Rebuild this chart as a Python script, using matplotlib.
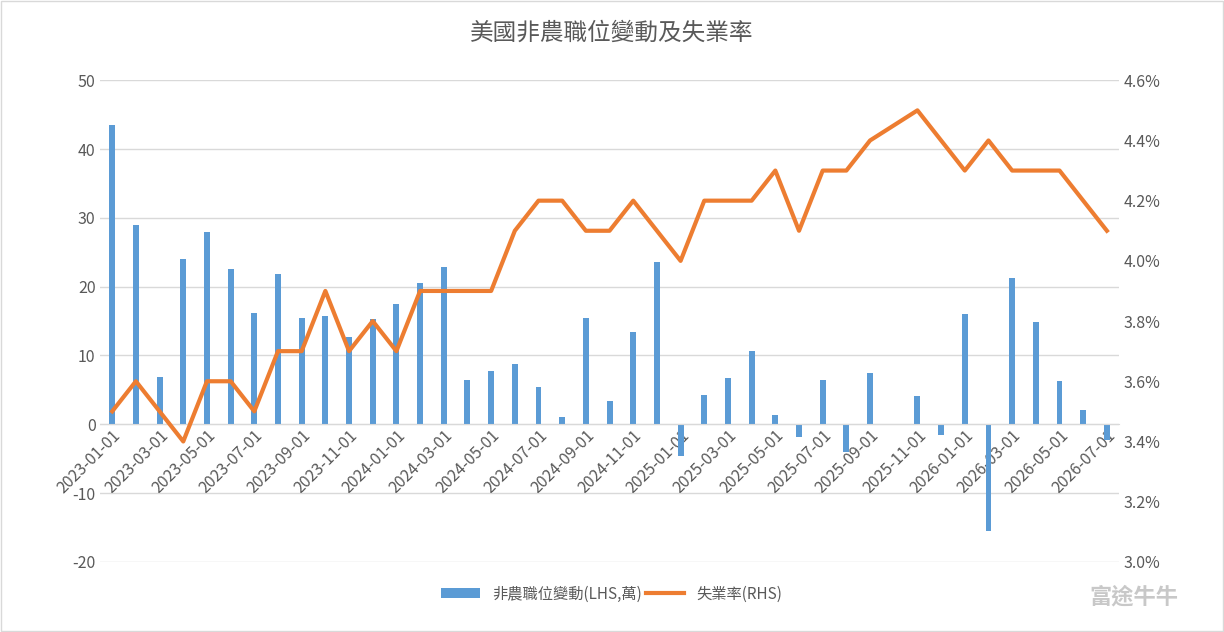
import numpy as np
import pandas as pd
import matplotlib
matplotlib.use("Agg")
import matplotlib.pyplot as plt
from matplotlib.ticker import FuncFormatter

plt.rcParams['font.family'] = ['Noto Sans CJK TC', 'DejaVu Sans']
plt.rcParams['axes.unicode_minus'] = False

months = pd.date_range("2023-01-01", "2026-07-01", freq="MS")
payrolls = [43.5, 29.0, 6.8, 24.0, 28.0, 22.5, 16.2, 21.8, 15.5, 15.8, 12.7, 15.3,
            17.5, 20.6, 22.8, 6.5, 7.8, 8.7, 5.4, 1.0, 15.5, 3.4, 13.4, 23.6,
            -4.6, 4.2, 6.7, 10.7, 1.4, -1.9, 6.4, -4.0, 7.5, np.nan, 4.1, -1.6,
            16.0, -15.5, 21.3, 14.8, 6.3, 2.0, -2.3]
unemp = [3.5, 3.6, 3.5, 3.4, 3.6, 3.6, 3.5, 3.7, 3.7, 3.9, 3.7, 3.8,
         3.7, 3.9, 3.9, 3.9, 3.9, 4.1, 4.2, 4.2, 4.1, 4.1, 4.2, 4.1,
         4.0, 4.2, 4.2, 4.2, 4.3, 4.1, 4.3, 4.3, 4.4, np.nan, 4.5, 4.4,
         4.3, 4.4, 4.3, 4.3, 4.3, 4.2, 4.1]
labels = [d.strftime("%Y-%m-%d") for d in months]

x = np.arange(len(months))
fig = plt.figure(figsize=(12.24, 6.32), dpi=100)
ax = fig.add_axes([0.082, 0.111, 0.832, 0.762])
ax2 = ax.twinx()

pay = np.array(payrolls, float)
ax.bar(x, np.nan_to_num(pay), width=0.25, color='#5b9bd5', label='非農職位變動(LHS,萬)', zorder=2)
u = np.array(unemp, float)
m = ~np.isnan(u)
ax2.plot(x[m], u[m], color='#ed7d31', lw=3, label='失業率(RHS)', zorder=3)

ax.set_ylim(-20, 50)
ax.set_yticks(range(-20, 51, 10))
ax2.set_ylim(3.0, 4.6)
ax2.set_yticks(np.arange(3.0, 4.61, 0.2))
ax2.yaxis.set_major_formatter(FuncFormatter(lambda v, p: f"{v:.1f}%"))
ax.set_xlim(-0.5, len(x) - 0.5)
ax.grid(axis='y', color='#d9d9d9', lw=1, zorder=0)
ax.set_axisbelow(True)
for a in (ax, ax2):
    for s in ['top', 'left', 'right']:
        a.spines[s].set_visible(False)
    a.tick_params(axis='y', length=0, labelsize=11.5, colors='#595959')
ax2.spines['bottom'].set_visible(False)
ax.spines['bottom'].set_position(('data', 0))
ax.spines['bottom'].set_color('#d9d9d9')
ax.set_xticks(x[::2])
ax.set_xticklabels(labels[::2], rotation=45, ha='right', rotation_mode='anchor',
                   fontsize=11.5, color='#595959')
ax.tick_params(axis='x', length=0, pad=2)
ax.set_zorder(ax2.get_zorder() - 1)
ax.patch.set_visible(False)

fig.suptitle('美國非農職位變動及失業率', y=0.965, fontsize=17, color='#595959')
h1, l1 = ax.get_legend_handles_labels()
h2, l2 = ax2.get_legend_handles_labels()
fig.legend(h1 + h2, l1 + l2, loc='lower center', bbox_to_anchor=(0.5, 0.025), ncol=2,
           frameon=False, fontsize=11, labelcolor='#595959', handlelength=2.5, columnspacing=0.3)
fig.text(0.89, 0.045, '富途牛牛', fontsize=16, color='#c8c8c8', weight='bold')
fig.patches.append(plt.Rectangle((0.001, 0.001), 0.998, 0.998, transform=fig.transFigure,
                                 fill=False, edgecolor='#d9d9d9', lw=1))
fig.savefig('out.png', dpi=100)
